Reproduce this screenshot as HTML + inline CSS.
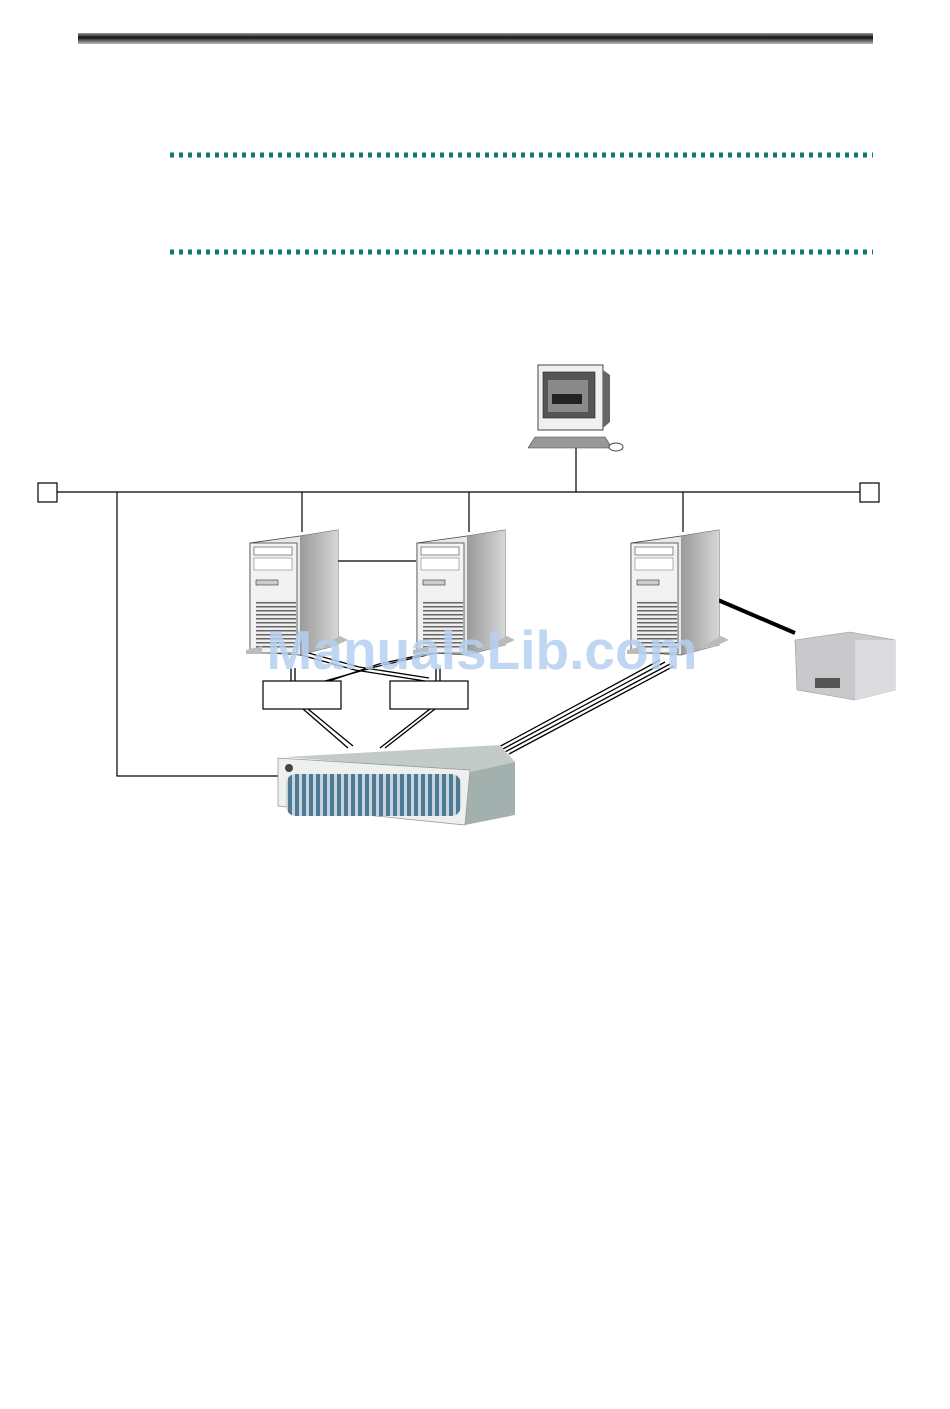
<!DOCTYPE html>
<html><head><meta charset="utf-8"><style>
body{margin:0;background:#fff;}
svg{display:block}
</style></head><body>
<svg width="950" height="1409" viewBox="0 0 950 1409" xmlns="http://www.w3.org/2000/svg">
<defs>
<linearGradient id="hb" x1="0" y1="0" x2="0" y2="1"><stop offset="0" stop-color="#999"/><stop offset="0.4" stop-color="#111"/><stop offset="1" stop-color="#bbb"/></linearGradient>
<linearGradient id="side" x1="0" y1="0" x2="1" y2="0"><stop offset="0" stop-color="#9a9a9a"/><stop offset="1" stop-color="#d6d6d6"/></linearGradient>
<pattern id="vent" width="4" height="4" patternUnits="userSpaceOnUse"><rect width="4" height="4" fill="#eee"/><rect y="2" width="4" height="1.5" fill="#666"/></pattern>
<pattern id="blue" width="7" height="40" patternUnits="userSpaceOnUse"><rect width="7" height="40" fill="#c8d4dc"/><rect x="1" width="4" height="40" fill="#4e7a95"/></pattern>
</defs>
<rect x="78" y="33" width="795" height="11" fill="url(#hb)"/>
<line x1="170" y1="155" x2="873" y2="155" stroke="#0c7a6e" stroke-width="5" stroke-dasharray="4,5"/>
<line x1="170" y1="252" x2="873" y2="252" stroke="#0c7a6e" stroke-width="5" stroke-dasharray="4,5"/>

<g stroke="#000" stroke-width="1.2" fill="none">
<line x1="57" y1="492" x2="860" y2="492"/>
<rect x="38" y="483" width="19" height="19" fill="#fff"/>
<rect x="860" y="483" width="19" height="19" fill="#fff"/>
<polyline points="117,492 117,776 280,776"/>
<line x1="302" y1="492" x2="302" y2="532"/>
<line x1="469" y1="492" x2="469" y2="532"/>
<line x1="576" y1="445" x2="576" y2="492"/>
<line x1="683" y1="492" x2="683" y2="532"/>
<line x1="338" y1="561" x2="416" y2="561"/>
<rect x="263" y="681" width="78" height="28" fill="#fff"/>
<rect x="390" y="681" width="78" height="28" fill="#fff"/>
</g>
<line x1="718" y1="600" x2="795" y2="633" stroke="#000" stroke-width="4"/>
<g stroke="#000" stroke-width="1.3">
<line x1="290" y1="652" x2="355" y2="670"/><line x1="294" y1="649" x2="359" y2="667"/>
<line x1="355" y1="670" x2="425" y2="681"/><line x1="359" y1="667" x2="429" y2="678"/>
<line x1="325" y1="681" x2="375" y2="667"/><line x1="329" y1="681" x2="379" y2="664"/>
<line x1="375" y1="667" x2="440" y2="652"/><line x1="379" y1="664" x2="444" y2="650"/>
<line x1="291" y1="668" x2="291" y2="681"/><line x1="295" y1="668" x2="295" y2="681"/>
<line x1="436" y1="668" x2="436" y2="681"/><line x1="440" y1="668" x2="440" y2="681"/>
<line x1="303" y1="709" x2="348" y2="748"/><line x1="308" y1="709" x2="353" y2="746"/>
<line x1="430" y1="709" x2="380" y2="748"/><line x1="435" y1="709" x2="385" y2="748"/>
<line x1="497" y1="748" x2="660" y2="660"/><line x1="501" y1="750" x2="665" y2="662"/><line x1="505" y1="752" x2="670" y2="664"/><line x1="509" y1="754" x2="674" y2="666"/>
</g>

<g id="t">
<polygon points="250,543 300,536 338,530 338,645 300,655 250,652" fill="#e8e8e8" stroke="#444" stroke-width="0.8"/>
<polygon points="300,536 338,530 338,645 300,655" fill="url(#side)"/>
<rect x="250" y="543" width="47" height="110" fill="#f2f2f2" stroke="#444" stroke-width="0.8"/>
<rect x="254" y="547" width="38" height="8" fill="#fff" stroke="#444" stroke-width="0.6"/>
<rect x="254" y="558" width="38" height="12" fill="#fff" stroke="#666" stroke-width="0.5"/>
<rect x="256" y="580" width="22" height="5" fill="#ccc" stroke="#333" stroke-width="0.6"/>
<rect x="256" y="600" width="40" height="50" fill="url(#vent)"/>
<polygon points="322,646 340,636 348,640 330,648" fill="#bbb"/>
<polygon points="246,650 262,646 262,654 246,654" fill="#bbb"/>
</g>
<use href="#t" x="167"/>
<use href="#t" x="381"/>

<rect x="538" y="365" width="65" height="65" fill="#f0f0f0" stroke="#444" stroke-width="1"/>
<polygon points="603,370 610,375 610,422 603,428" fill="#666"/>
<rect x="543" y="372" width="52" height="46" fill="#555" stroke="#222" stroke-width="0.6"/>
<rect x="548" y="380" width="40" height="32" fill="#8a8a8a"/>
<rect x="552" y="394" width="30" height="10" fill="#222"/>
<polygon points="535,437 605,437 612,448 528,448" fill="#999" stroke="#444" stroke-width="0.6"/>
<ellipse cx="616" cy="447" rx="7" ry="4" fill="#fff" stroke="#444"/>

<polygon points="285,757 500,745 515,762 470,772" fill="#c3cbc9"/>
<polygon points="470,772 515,762 515,815 465,825" fill="#a3b1ae"/>
<polygon points="278,758 470,770 465,825 278,806" fill="#eef0f0" stroke="#999" stroke-width="0.8"/>
<rect x="286" y="774" width="175" height="42" rx="10" fill="url(#blue)"/>
<circle cx="289" cy="768" r="4" fill="#444"/>

<polygon points="795,640 850,632 895,640 895,690 855,700 797,690" fill="#c9c9cc" stroke="#999" stroke-width="0.6"/>
<polygon points="855,640 895,640 895,690 855,700" fill="#dcdce0"/>
<rect x="815" y="678" width="25" height="10" fill="#555"/>

<text x="482" y="669" text-anchor="middle" font-family="Liberation Sans, sans-serif" font-weight="bold" font-size="55" fill="#b4d0f0" fill-opacity="0.85">ManualsLib.com</text>
</svg>
</body></html>
